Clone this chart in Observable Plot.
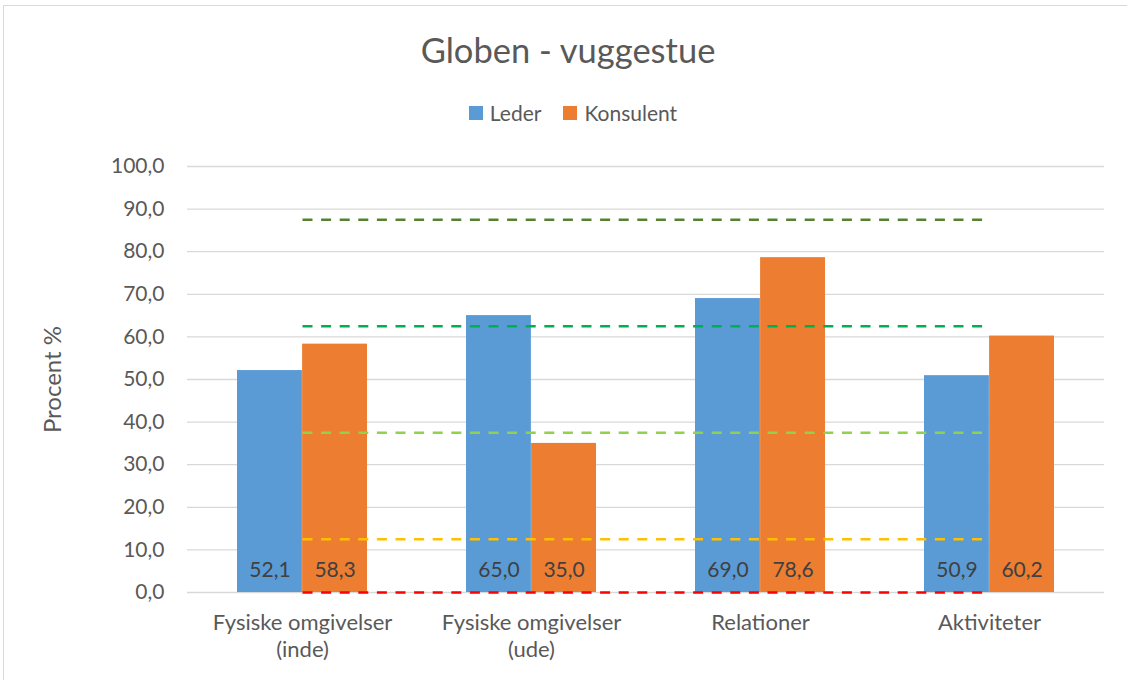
<!DOCTYPE html>
<html>
<head>
<meta charset="utf-8">
<script src="https://cdn.jsdelivr.net/npm/d3@7"></script>
<script src="https://cdn.jsdelivr.net/npm/@observablehq/plot@0.6"></script>
<style>
  html, body { margin: 0; padding: 0; background: #fff; }
  #wrap { position: relative; width: 1127px; height: 680px; overflow: hidden; font-family: Lato, sans-serif; color: #595959; }
  #frame { position: absolute; left: 3px; top: 5px; width: 1200px; height: 800px; border-left: 1px solid #d9d9d9; border-top: 1px solid #d9d9d9; }
  #header { position: relative; height: 140px; }
  #title { position: absolute; left: 0; width: 1136px; top: 31px; text-align: center; font-size: 34.5px; line-height: 38px; }
  #legend { position: absolute; left: 0; width: 1146px; top: 101px; display: flex; justify-content: center; gap: 22px; font-size: 21px; line-height: 24px; }
  .item { display: flex; align-items: center; gap: 7px; }
  .sw { width: 14px; height: 14px; display: inline-block; }
  #chart svg { display: block; }
</style>
</head>
<body>
<div id="wrap">
  <div id="frame"></div>
  <div id="header">
    <div id="title"></div>
    <div id="legend"></div>
  </div>
  <div id="chart"></div>
</div>
<script>
const titleText = "Globen - vuggestue";
const yLabel = "Procent %";
const categories = ["Fysiske omgivelser (inde)", "Fysiske omgivelser (ude)", "Relationer", "Aktiviteter"];
const tickLabels = ["Fysiske omgivelser\n(inde)", "Fysiske omgivelser\n(ude)", "Relationer", "Aktiviteter"];
const seriesNames = ["Leder", "Konsulent"];
const seriesColors = ["#5B9BD5", "#ED7D31"];
const lederValues = [52.1, 65.0, 69.0, 50.9];
const konsulentValues = [58.3, 35.0, 78.6, 60.2];
const thresholdValues = [0, 12.5, 37.5, 62.5, 87.5];
const thresholdColors = ["#FF0000", "#FFC000", "#92D050", "#00B050", "#548235"];
const yTicks = [0, 10, 20, 30, 40, 50, 60, 70, 80, 90, 100];

document.getElementById("title").textContent = titleText;
const legend = document.getElementById("legend");
seriesNames.forEach((name, i) => {
  const item = document.createElement("div");
  item.className = "item";
  const sw = document.createElement("span");
  sw.className = "sw";
  sw.style.background = seriesColors[i];
  const lab = document.createElement("span");
  lab.textContent = name;
  item.appendChild(sw);
  item.appendChild(lab);
  legend.appendChild(item);
});

const leder = categories.map((c, i) => ({cat: c, value: lederValues[i]}));
const konsulent = categories.map((c, i) => ({cat: c, value: konsulentValues[i]}));
const thresholdLines = thresholdValues.flatMap((t, k) =>
  categories.map(c => ({cat: c, value: t, level: k})));

const fmt = d => d.toFixed(1).replace(".", ",");
const labelOf = Object.fromEntries(categories.map((c, i) => [c, tickLabels[i]]));

const W = 1127, H = 540;
const mL = 187, mR = 23, mT = 26, mB = 88;
const pInner = 0.432, pOuter = 0.216;
const step = (W - mL - mR) / (categories.length - pInner + 2 * pOuter);
const bw = step * (1 - pInner);
const half = bw / 2;

const chart = Plot.plot({
  width: W,
  height: H,
  marginLeft: mL,
  marginRight: mR,
  marginTop: mT,
  marginBottom: mB,
  style: {fontFamily: "Lato, sans-serif", background: "white"},
  x: {domain: categories, paddingInner: pInner, paddingOuter: pOuter, align: 0.5},
  y: {domain: [0, 100]},
  marks: [
    Plot.gridY(yTicks, {stroke: "#d9d9d9", strokeOpacity: 1, strokeWidth: 1.3}),
    Plot.axisY(yTicks, {tickSize: 0, tickPadding: 23, tickFormat: fmt, fontSize: 21, fill: "#595959", label: null}),
    Plot.axisX({tickSize: 0, tickPadding: 18, tickFormat: d => labelOf[d], fontSize: 22, fill: "#595959", lineHeight: 1.23, label: null}),
    Plot.barY(leder, {x: "cat", y: "value", fill: seriesColors[0], insetRight: half}),
    Plot.barY(konsulent, {x: "cat", y: "value", fill: seriesColors[1], insetLeft: half}),
    ...thresholdValues.map((t, k) =>
      Plot.lineY(thresholdLines.filter(d => d.level === k), {
        x: "cat", y: "value", stroke: thresholdColors[k], strokeWidth: 2.5,
        strokeDasharray: "10,8.6", strokeLinecap: "butt"
      })),
    Plot.text(leder, {x: "cat", y: 0, text: d => fmt(d.value), dx: -half / 2, dy: -22, fontSize: 21, fill: "#404040"}),
    Plot.text(konsulent, {x: "cat", y: 0, text: d => fmt(d.value), dx: half / 2, dy: -22, fontSize: 21, fill: "#404040"}),
    Plot.text([yLabel], {frameAnchor: "left", textAnchor: "middle", dx: -134, rotate: -90, fontSize: 24, fill: "#595959"})
  ]
});
document.getElementById("chart").appendChild(chart);
</script>
</body>
</html>
